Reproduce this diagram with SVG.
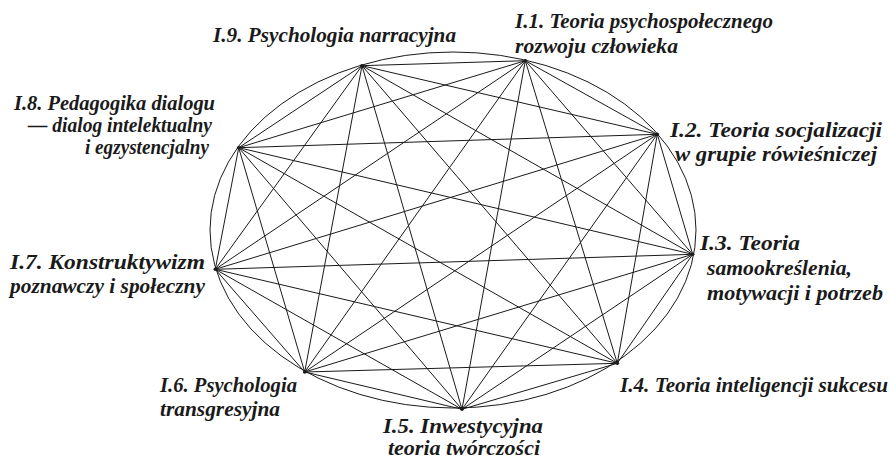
<svg xmlns="http://www.w3.org/2000/svg" width="892" height="461" viewBox="0 0 892 461">
  <style>
    .lbl { font-family: "Liberation Serif", "DejaVu Serif", serif; font-weight: bold; font-style: italic; font-size: 21px; fill: #1a1a1a; }
    .edge { stroke: #1a1a1a; stroke-width: 1; fill: none; }
    .ring { stroke: #1a1a1a; stroke-width: 1; fill: none; }
    .dot { fill: #1a1a1a; }
  </style>
  <rect width="892" height="461" fill="#ffffff"/>

  <!-- outer ellipse -->
  <ellipse class="ring" cx="453" cy="230" rx="243" ry="178"/>

  <!-- complete graph: every node joined to every other -->
  <g id="connectors" class="edge">
    <!-- from I.1 -->
    <line x1="525.3" y1="60.7" x2="657.3" y2="134.3"/>
    <line x1="525.3" y1="60.7" x2="692.7" y2="254.3"/>
    <line x1="525.3" y1="60.7" x2="617.3" y2="363.3"/>
    <line x1="525.3" y1="60.7" x2="462" y2="409.3"/>
    <line x1="525.3" y1="60.7" x2="304.7" y2="372"/>
    <line x1="525.3" y1="60.7" x2="215.3" y2="269.3"/>
    <line x1="525.3" y1="60.7" x2="238.7" y2="147.7"/>
    <line x1="525.3" y1="60.7" x2="362" y2="65.7"/>
    <!-- from I.2 -->
    <line x1="657.3" y1="134.3" x2="692.7" y2="254.3"/>
    <line x1="657.3" y1="134.3" x2="617.3" y2="363.3"/>
    <line x1="657.3" y1="134.3" x2="462" y2="409.3"/>
    <line x1="657.3" y1="134.3" x2="304.7" y2="372"/>
    <line x1="657.3" y1="134.3" x2="215.3" y2="269.3"/>
    <line x1="657.3" y1="134.3" x2="238.7" y2="147.7"/>
    <line x1="657.3" y1="134.3" x2="362" y2="65.7"/>
    <!-- from I.3 -->
    <line x1="692.7" y1="254.3" x2="617.3" y2="363.3"/>
    <line x1="692.7" y1="254.3" x2="462" y2="409.3"/>
    <line x1="692.7" y1="254.3" x2="304.7" y2="372"/>
    <line x1="692.7" y1="254.3" x2="215.3" y2="269.3"/>
    <line x1="692.7" y1="254.3" x2="238.7" y2="147.7"/>
    <line x1="692.7" y1="254.3" x2="362" y2="65.7"/>
    <!-- from I.4 -->
    <line x1="617.3" y1="363.3" x2="462" y2="409.3"/>
    <line x1="617.3" y1="363.3" x2="304.7" y2="372"/>
    <line x1="617.3" y1="363.3" x2="215.3" y2="269.3"/>
    <line x1="617.3" y1="363.3" x2="238.7" y2="147.7"/>
    <line x1="617.3" y1="363.3" x2="362" y2="65.7"/>
    <!-- from I.5 -->
    <line x1="462" y1="409.3" x2="304.7" y2="372"/>
    <line x1="462" y1="409.3" x2="215.3" y2="269.3"/>
    <line x1="462" y1="409.3" x2="238.7" y2="147.7"/>
    <line x1="462" y1="409.3" x2="362" y2="65.7"/>
    <!-- from I.6 -->
    <line x1="304.7" y1="372" x2="215.3" y2="269.3"/>
    <line x1="304.7" y1="372" x2="238.7" y2="147.7"/>
    <line x1="304.7" y1="372" x2="362" y2="65.7"/>
    <!-- from I.7 -->
    <line x1="215.3" y1="269.3" x2="238.7" y2="147.7"/>
    <line x1="215.3" y1="269.3" x2="362" y2="65.7"/>
    <!-- from I.8 -->
    <line x1="238.7" y1="147.7" x2="362" y2="65.7"/>
  </g>

  <g id="node-1">
    <circle class="dot" cx="525.3" cy="60.7" r="1.8"/>
    <text class="lbl" x="515" y="28" textLength="258" lengthAdjust="spacingAndGlyphs">I.1. Teoria psychospołecznego</text>
    <text class="lbl" x="515" y="53" textLength="163" lengthAdjust="spacingAndGlyphs">rozwoju człowieka</text>
  </g>
  <g id="node-2">
    <circle class="dot" cx="657.3" cy="134.3" r="1.8"/>
    <text class="lbl" x="670" y="137" textLength="212" lengthAdjust="spacingAndGlyphs">I.2. Teoria socjalizacji</text>
    <text class="lbl" x="675" y="161" textLength="202" lengthAdjust="spacingAndGlyphs">w grupie rówieśniczej</text>
  </g>
  <g id="node-3">
    <circle class="dot" cx="692.7" cy="254.3" r="1.8"/>
    <text class="lbl" x="700" y="250" textLength="100" lengthAdjust="spacingAndGlyphs">I.3. Teoria</text>
    <text class="lbl" x="707" y="275" textLength="145" lengthAdjust="spacingAndGlyphs">samookreślenia,</text>
    <text class="lbl" x="707" y="300" textLength="176" lengthAdjust="spacingAndGlyphs">motywacji i potrzeb</text>
  </g>
  <g id="node-4">
    <circle class="dot" cx="617.3" cy="363.3" r="1.8"/>
    <text class="lbl" x="620" y="392" textLength="268" lengthAdjust="spacingAndGlyphs">I.4. Teoria inteligencji sukcesu</text>
  </g>
  <g id="node-5">
    <circle class="dot" cx="462" cy="409.3" r="1.8"/>
    <text class="lbl" x="383" y="433" textLength="160" lengthAdjust="spacingAndGlyphs">I.5. Inwestycyjna</text>
    <text class="lbl" x="388" y="455" textLength="152" lengthAdjust="spacingAndGlyphs">teoria twórczości</text>
  </g>
  <g id="node-6">
    <circle class="dot" cx="304.7" cy="372" r="1.8"/>
    <text class="lbl" x="160" y="392" textLength="137" lengthAdjust="spacingAndGlyphs">I.6. Psychologia</text>
    <text class="lbl" x="160" y="416" textLength="120" lengthAdjust="spacingAndGlyphs">transgresyjna</text>
  </g>
  <g id="node-7">
    <circle class="dot" cx="215.3" cy="269.3" r="1.8"/>
    <text class="lbl" x="10" y="269" textLength="195" lengthAdjust="spacingAndGlyphs">I.7. Konstruktywizm</text>
    <text class="lbl" x="10" y="293" textLength="195" lengthAdjust="spacingAndGlyphs">poznawczy i społeczny</text>
  </g>
  <g id="node-8">
    <circle class="dot" cx="238.7" cy="147.7" r="1.8"/>
    <text class="lbl" x="14" y="110" textLength="201" lengthAdjust="spacingAndGlyphs">I.8. Pedagogika dialogu</text>
    <text class="lbl" x="28" y="132" textLength="184" lengthAdjust="spacingAndGlyphs">— dialog intelektualny</text>
    <text class="lbl" x="85" y="154" textLength="124" lengthAdjust="spacingAndGlyphs">i egzystencjalny</text>
  </g>
  <g id="node-9">
    <circle class="dot" cx="362" cy="65.7" r="1.8"/>
    <text class="lbl" x="213" y="42" textLength="243" lengthAdjust="spacingAndGlyphs">I.9. Psychologia narracyjna</text>
  </g>
</svg>
